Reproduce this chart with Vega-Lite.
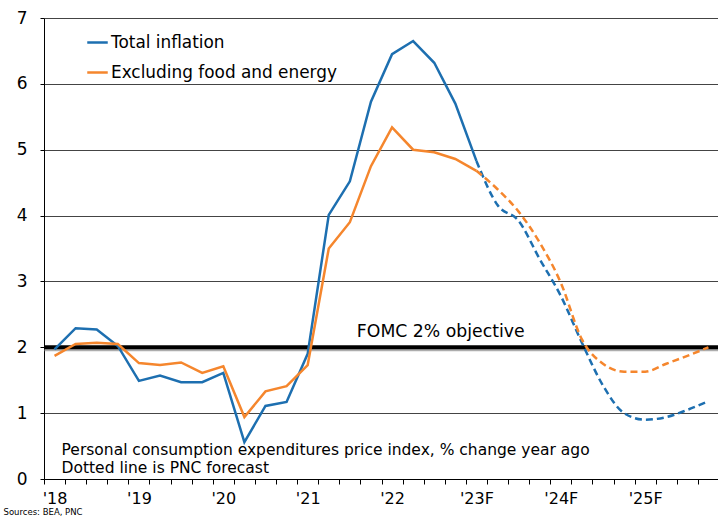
{
  "$schema": "https://vega.github.io/schema/vega-lite/v6.json",
  "width": 675,
  "height": 461,
  "autosize": "none",
  "padding": {"left": 44, "top": 18, "right": 0, "bottom": 38},
  "background": "white",
  "config": {
    "font": "DejaVu Sans",
    "view": {"stroke": null},
    "axis": {"labelFont": "DejaVu Sans", "titleFont": "DejaVu Sans", "labelColor": "#000", "domainColor": "#000", "tickColor": "#000"},
    "legend": {"labelFont": "DejaVu Sans"}
  },
  "datasets": {
    "pce": [
      {"t": "2018Q1", "s": "Total inflation", "v": 1.97, "seg": "actual"},
      {"t": "2018Q2", "s": "Total inflation", "v": 2.29, "seg": "actual"},
      {"t": "2018Q3", "s": "Total inflation", "v": 2.27, "seg": "actual"},
      {"t": "2018Q4", "s": "Total inflation", "v": 2.02, "seg": "actual"},
      {"t": "2019Q1", "s": "Total inflation", "v": 1.49, "seg": "actual"},
      {"t": "2019Q2", "s": "Total inflation", "v": 1.57, "seg": "actual"},
      {"t": "2019Q3", "s": "Total inflation", "v": 1.47, "seg": "actual"},
      {"t": "2019Q4", "s": "Total inflation", "v": 1.47, "seg": "actual"},
      {"t": "2020Q1", "s": "Total inflation", "v": 1.61, "seg": "actual"},
      {"t": "2020Q2", "s": "Total inflation", "v": 0.56, "seg": "actual"},
      {"t": "2020Q3", "s": "Total inflation", "v": 1.11, "seg": "actual"},
      {"t": "2020Q4", "s": "Total inflation", "v": 1.17, "seg": "actual"},
      {"t": "2021Q1", "s": "Total inflation", "v": 1.9, "seg": "actual"},
      {"t": "2021Q2", "s": "Total inflation", "v": 4.01, "seg": "actual"},
      {"t": "2021Q3", "s": "Total inflation", "v": 4.52, "seg": "actual"},
      {"t": "2021Q4", "s": "Total inflation", "v": 5.73, "seg": "actual"},
      {"t": "2022Q1", "s": "Total inflation", "v": 6.45, "seg": "actual"},
      {"t": "2022Q2", "s": "Total inflation", "v": 6.65, "seg": "actual"},
      {"t": "2022Q3", "s": "Total inflation", "v": 6.32, "seg": "actual"},
      {"t": "2022Q4", "s": "Total inflation", "v": 5.7, "seg": "actual"},
      {"t": "2023Q1", "s": "Total inflation", "v": 4.83, "seg": "actual"},
      {"t": "2023Q1", "s": "Total inflation", "v": 4.83, "seg": "forecast"},
      {"t": "2023Q2", "s": "Total inflation", "v": 4.16, "seg": "forecast"},
      {"t": "2023Q3", "s": "Total inflation", "v": 3.92, "seg": "forecast"},
      {"t": "2023Q4", "s": "Total inflation", "v": 3.34, "seg": "forecast"},
      {"t": "2024Q1", "s": "Total inflation", "v": 2.78, "seg": "forecast"},
      {"t": "2024Q2", "s": "Total inflation", "v": 2.07, "seg": "forecast"},
      {"t": "2024Q3", "s": "Total inflation", "v": 1.42, "seg": "forecast"},
      {"t": "2024Q4", "s": "Total inflation", "v": 1.0, "seg": "forecast"},
      {"t": "2025Q1", "s": "Total inflation", "v": 0.9, "seg": "forecast"},
      {"t": "2025Q2", "s": "Total inflation", "v": 0.94, "seg": "forecast"},
      {"t": "2025Q3", "s": "Total inflation", "v": 1.05, "seg": "forecast"},
      {"t": "2025Q4", "s": "Total inflation", "v": 1.18, "seg": "forecast"},
      {"t": "2018Q1", "s": "Excluding food and energy", "v": 1.87, "seg": "actual"},
      {"t": "2018Q2", "s": "Excluding food and energy", "v": 2.05, "seg": "actual"},
      {"t": "2018Q3", "s": "Excluding food and energy", "v": 2.07, "seg": "actual"},
      {"t": "2018Q4", "s": "Excluding food and energy", "v": 2.05, "seg": "actual"},
      {"t": "2019Q1", "s": "Excluding food and energy", "v": 1.76, "seg": "actual"},
      {"t": "2019Q2", "s": "Excluding food and energy", "v": 1.73, "seg": "actual"},
      {"t": "2019Q3", "s": "Excluding food and energy", "v": 1.77, "seg": "actual"},
      {"t": "2019Q4", "s": "Excluding food and energy", "v": 1.61, "seg": "actual"},
      {"t": "2020Q1", "s": "Excluding food and energy", "v": 1.71, "seg": "actual"},
      {"t": "2020Q2", "s": "Excluding food and energy", "v": 0.94, "seg": "actual"},
      {"t": "2020Q3", "s": "Excluding food and energy", "v": 1.33, "seg": "actual"},
      {"t": "2020Q4", "s": "Excluding food and energy", "v": 1.41, "seg": "actual"},
      {"t": "2021Q1", "s": "Excluding food and energy", "v": 1.73, "seg": "actual"},
      {"t": "2021Q2", "s": "Excluding food and energy", "v": 3.5, "seg": "actual"},
      {"t": "2021Q3", "s": "Excluding food and energy", "v": 3.9, "seg": "actual"},
      {"t": "2021Q4", "s": "Excluding food and energy", "v": 4.75, "seg": "actual"},
      {"t": "2022Q1", "s": "Excluding food and energy", "v": 5.34, "seg": "actual"},
      {"t": "2022Q2", "s": "Excluding food and energy", "v": 5.0, "seg": "actual"},
      {"t": "2022Q3", "s": "Excluding food and energy", "v": 4.96, "seg": "actual"},
      {"t": "2022Q4", "s": "Excluding food and energy", "v": 4.86, "seg": "actual"},
      {"t": "2023Q1", "s": "Excluding food and energy", "v": 4.68, "seg": "actual"},
      {"t": "2023Q1", "s": "Excluding food and energy", "v": 4.68, "seg": "forecast"},
      {"t": "2023Q2", "s": "Excluding food and energy", "v": 4.4, "seg": "forecast"},
      {"t": "2023Q3", "s": "Excluding food and energy", "v": 4.06, "seg": "forecast"},
      {"t": "2023Q4", "s": "Excluding food and energy", "v": 3.59, "seg": "forecast"},
      {"t": "2024Q1", "s": "Excluding food and energy", "v": 2.98, "seg": "forecast"},
      {"t": "2024Q2", "s": "Excluding food and energy", "v": 2.12, "seg": "forecast"},
      {"t": "2024Q3", "s": "Excluding food and energy", "v": 1.75, "seg": "forecast"},
      {"t": "2024Q4", "s": "Excluding food and energy", "v": 1.63, "seg": "forecast"},
      {"t": "2025Q1", "s": "Excluding food and energy", "v": 1.63, "seg": "forecast"},
      {"t": "2025Q2", "s": "Excluding food and energy", "v": 1.75, "seg": "forecast"},
      {"t": "2025Q3", "s": "Excluding food and energy", "v": 1.87, "seg": "forecast"},
      {"t": "2025Q4", "s": "Excluding food and energy", "v": 2.0, "seg": "forecast"}
    ]
  },
  "layer": [
    {
      "data": {"values": [{"t": "2018Q1", "v": 2}]},
      "mark": {"type": "rule", "color": "#777", "strokeWidth": 4, "opacity": 0.6, "yOffset": 2},
      "encoding": {"y": {"field": "v", "type": "quantitative", "scale": {"domain": [0, 7]}}}
    },
    {
      "data": {"values": [{"t": "2018Q1", "v": 2}]},
      "mark": {"type": "rule", "color": "#000", "strokeWidth": 4},
      "encoding": {"y": {"field": "v", "type": "quantitative", "scale": {"domain": [0, 7]}}}
    },
    {
      "data": {"name": "pce"},
      "transform": [{"filter": "datum.seg == 'actual'"}],
      "mark": {"type": "line", "strokeWidth": 2.5, "interpolate": "linear"},
      "encoding": {
        "x": {
          "field": "t", "type": "ordinal",
          "scale": {"type": "band", "paddingInner": 0, "paddingOuter": 0,
            "domain": ["2018Q1","2018Q2","2018Q3","2018Q4","2019Q1","2019Q2","2019Q3","2019Q4","2020Q1","2020Q2","2020Q3","2020Q4","2021Q1","2021Q2","2021Q3","2021Q4","2022Q1","2022Q2","2022Q3","2022Q4","2023Q1","2023Q2","2023Q3","2023Q4","2024Q1","2024Q2","2024Q3","2024Q4","2025Q1","2025Q2","2025Q3","2025Q4"]},
          "axis": {
            "title": "Sources: BEA, PNC",
            "titleFontSize": 8.5, "titleFontWeight": "normal", "titleColor": "#000",
            "titleAnchor": "start", "titleAlign": "left", "titleBaseline": "top",
            "titleX": -41, "titleY": 28,
            "labelExpr": "substring(datum.value, 4, 6) == 'Q1' ? \"'\" + substring(datum.value, 2, 4) + (toNumber(substring(datum.value, 0, 4)) >= 2023 ? 'F' : '') : ''",
            "labelAngle": 0, "labelFontSize": 16, "labelPadding": 6, "labelOverlap": false,
            "tickBand": "extent", "tickSize": 5, "ticks": true, "domainWidth": 1, "grid": false
          }
        },
        "y": {
          "field": "v", "type": "quantitative",
          "scale": {"domain": [0, 7]},
          "axis": {"title": null, "values": [0,1,2,3,4,5,6,7], "format": "d", "labelFontSize": 17, "labelPadding": 13, "tickSize": 4,
            "grid": true, "gridColor": "#444", "gridWidth": 1, "domainWidth": 1}
        },
        "color": {
          "field": "s", "type": "nominal",
          "scale": {"domain": ["Total inflation", "Excluding food and energy"], "range": ["#1d6fb0", "#f5862d"]},
          "legend": {
            "title": null, "orient": "none", "legendX": 42, "legendY": 13,
            "symbolType": "stroke", "symbolSize": 420, "symbolStrokeWidth": 2.5,
            "labelFontSize": 16.9, "labelColor": "#000", "labelOffset": 2, "labelLimit": 400,
            "rowPadding": 10, "padding": 0
          }
        },
        "detail": {"field": "s"}
      }
    },
    {
      "data": {"name": "pce"},
      "transform": [{"filter": "datum.seg == 'forecast'"}],
      "mark": {"type": "line", "strokeWidth": 2.5, "interpolate": "monotone", "strokeDash": [7, 4]},
      "encoding": {
        "x": {"field": "t", "type": "ordinal"},
        "y": {"field": "v", "type": "quantitative"},
        "color": {"field": "s", "type": "nominal"},
        "detail": {"field": "s"}
      }
    },
    {
      "data": {"values": [{"t": "2021Q3", "v": 2.23, "label": "FOMC 2% objective"}]},
      "mark": {"type": "text", "align": "left", "baseline": "middle", "fontSize": 17.3, "color": "#000", "dx": 7},
      "encoding": {
        "x": {"field": "t", "type": "ordinal"},
        "y": {"field": "v", "type": "quantitative"},
        "text": {"field": "label"}
      }
    },
    {
      "data": {"values": [
        {"t": "2018Q1", "v": 0.44, "label": "Personal consumption expenditures price index, % change year ago"},
        {"t": "2018Q1", "v": 0.17, "label": "Dotted line is PNC forecast"}
      ]},
      "mark": {"type": "text", "align": "left", "baseline": "middle", "fontSize": 15.5, "color": "#000", "dx": 7},
      "encoding": {
        "x": {"field": "t", "type": "ordinal"},
        "y": {"field": "v", "type": "quantitative"},
        "text": {"field": "label"}
      }
    }
  ]
}
